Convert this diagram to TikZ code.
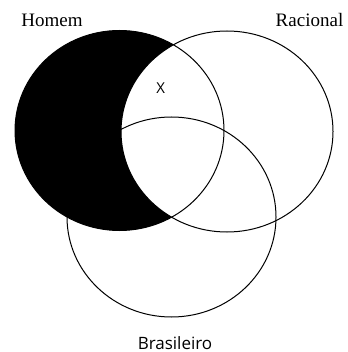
\documentclass[tikz,border=0pt]{standalone}
\usepackage{fontspec}
\setmainfont{Liberation Serif}
\newfontfamily\labsans{Open Sans}
\begin{document}
\begin{tikzpicture}[x=1pt,y=-1pt,
  circ/.style={draw=black, line width=1pt},
  seriflab/.style={font=\fontsize{19}{21}\selectfont, inner sep=0pt},
  sanslab/.style={font=\labsans\fontsize{17}{19}\selectfont, inner sep=0pt}]
\useasboundingbox (0,0) rectangle (347,352);
\coordinate (H) at (119.5,130.5);
\coordinate (R) at (227,131.5);
\coordinate (B) at (171.5,217);
\draw[circ] (B) ellipse [x radius=104.5, y radius=100];
\begin{scope}[even odd rule]
  \clip (R) ellipse [x radius=106, y radius=100.5] (-10,-10) rectangle (360,360);
  \fill[black] (H) ellipse [x radius=104.5, y radius=100];
\end{scope}
\draw[circ] (H) ellipse [x radius=104.5, y radius=100];
\draw[circ] (R) ellipse [x radius=106, y radius=100.5];
\node[seriflab] (homem) at (52,20) {Homem};
\node[seriflab] (racional) at (309.5,20) {Racional};
\node[sanslab, font=\labsans\fontsize{15}{17}\selectfont] (x) at (160.7,88) {X};
\node[sanslab, anchor=base] (brasileiro) at (175,349) {Brasileiro};
\end{tikzpicture}
\end{document}
